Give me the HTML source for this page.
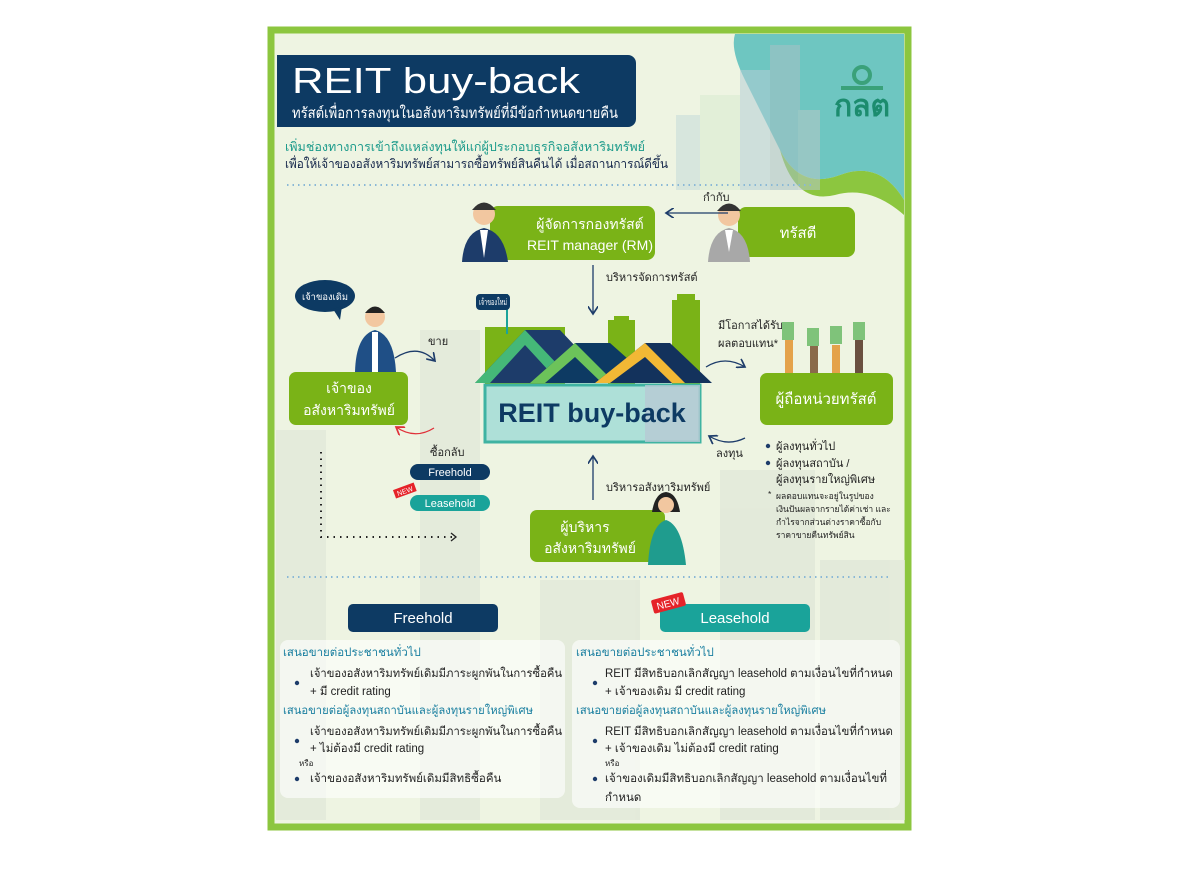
<!DOCTYPE html>
<html><head><meta charset="utf-8">
<style>
html,body{margin:0;padding:0;background:#fff;}
svg{display:block;}
text{font-family:"Liberation Sans","DejaVu Sans",sans-serif;}
</style></head>
<body>
<svg width="1200" height="881" viewBox="0 0 1200 881" xmlns="http://www.w3.org/2000/svg">
<defs>
<marker id="ah" markerWidth="8" markerHeight="8" refX="6" refY="4" orient="auto"><path d="M0,0 L6,4 L0,8" fill="none" stroke="#1d3c6a" stroke-width="1.3"/></marker>
<marker id="ahr" markerWidth="8" markerHeight="8" refX="6" refY="4" orient="auto"><path d="M0,0 L6,4 L0,8" fill="none" stroke="#e0313a" stroke-width="1.3"/></marker>
</defs>
<rect width="1200" height="881" fill="#fff"/>
<rect x="271" y="30" width="637" height="797" fill="#eef4e2" stroke="#8cc63f" stroke-width="7"/>
<g fill="#dfe7d8" opacity="0.7">
<rect x="276" y="430" width="50" height="390"/>
<rect x="420" y="330" width="60" height="490"/>
<rect x="720" y="470" width="95" height="350"/>
<rect x="540" y="580" width="100" height="240"/>
<rect x="820" y="560" width="85" height="260"/>
</g>
<path d="M735,34 L904,34 L904,200 Q880,160 840,175 Q800,190 780,150 Q760,110 745,80 Q730,50 735,34Z" fill="#6ec6c1"/>
<path d="M780,150 Q800,190 840,175 Q880,160 904,200 L904,215 Q870,185 835,195 Q795,205 780,150Z" fill="#8cc63f"/>
<g opacity="0.55">
<rect x="676" y="115" width="25" height="75" fill="#c6dcd9"/>
<rect x="700" y="95" width="40" height="95" fill="#d9ecd0"/>
<rect x="740" y="70" width="35" height="120" fill="#b4cfd6"/>
<rect x="770" y="45" width="30" height="145" fill="#a8c1c6"/>
<rect x="798" y="110" width="22" height="80" fill="#b8c8c8"/>
</g>
<circle cx="862" cy="75" r="8" fill="none" stroke="#3aa17a" stroke-width="4"/>
<rect x="841" y="86" width="42" height="4" fill="#3aa17a"/>
<text x="862" y="116" font-size="30" font-weight="bold" fill="#1c8c6e" text-anchor="middle">กลต</text>
<path d="M277,55 H628 a8,8 0 0 1 8,8 V119 a8,8 0 0 1 -8,8 H277Z" fill="#0d3a63"/>
<text x="292" y="93" font-size="36" fill="#fff" textLength="288" lengthAdjust="spacingAndGlyphs">REIT buy-back</text>
<text x="292" y="118" font-size="15" fill="#fff" textLength="326" lengthAdjust="spacingAndGlyphs">ทรัสต์เพื่อการลงทุนในอสังหาริมทรัพย์ที่มีข้อกำหนดขายคืน</text>
<text x="285" y="151" font-size="12.5" fill="#1a9a8a" textLength="360" lengthAdjust="spacingAndGlyphs">เพิ่มช่องทางการเข้าถึงแหล่งทุนให้แก่ผู้ประกอบธุรกิจอสังหาริมทรัพย์</text>
<text x="285" y="168" font-size="12.5" fill="#14264a" textLength="383" lengthAdjust="spacingAndGlyphs">เพื่อให้เจ้าของอสังหาริมทรัพย์สามารถซื้อทรัพย์สินคืนได้ เมื่อสถานการณ์ดีขึ้น</text>
<line x1="287" y1="185" x2="815" y2="185" stroke="#8ab8d6" stroke-width="2" stroke-dasharray="1.5,4"/>
<rect x="490" y="206" width="165" height="54" rx="8" fill="#7ab317"/>
<text x="590" y="229" font-size="14" fill="#fff" text-anchor="middle">ผู้จัดการกองทรัสต์</text>
<text x="590" y="250" font-size="14" fill="#fff" text-anchor="middle" textLength="126" lengthAdjust="spacingAndGlyphs">REIT manager (RM)</text>
<g><circle cx="484" cy="214" r="11" fill="#f2c7a0"/><path d="M472,210 Q484,195 496,210Z" fill="#333"/><path d="M462,262 Q464,232 484,228 Q504,232 508,262Z" fill="#1d3c6a"/><path d="M480,230 L488,230 L484,258Z" fill="#fff"/></g>
<rect x="738" y="207" width="117" height="50" rx="8" fill="#7ab317"/>
<text x="798" y="238" font-size="15" fill="#fff" text-anchor="middle">ทรัสตี</text>
<g><circle cx="729" cy="215" r="11" fill="#f2c7a0"/><path d="M717,211 Q729,196 741,211Z" fill="#333"/><path d="M708,262 Q710,232 729,228 Q748,232 750,262Z" fill="#a8a8a8"/><path d="M725,230 L733,230 L729,252Z" fill="#fff"/></g>
<text x="703" y="201" font-size="11" fill="#222">กำกับ</text>
<line x1="728" y1="213" x2="666" y2="213" stroke="#1d3c6a" stroke-width="1.3" marker-end="url(#ah)"/>
<line x1="593" y1="265" x2="593" y2="314" stroke="#1d3c6a" stroke-width="1.3" marker-end="url(#ah)"/>
<text x="606" y="281" font-size="11" fill="#222">บริหารจัดการทรัสต์</text>
<ellipse cx="325" cy="296" rx="30" ry="16" fill="#0d3a63"/>
<path d="M333,309 L340,320 L342,306Z" fill="#0d3a63"/>
<text x="325" y="300" font-size="9.5" fill="#fff" text-anchor="middle" textLength="46" lengthAdjust="spacingAndGlyphs">เจ้าของเดิม</text>
<g><circle cx="375" cy="317" r="10" fill="#f2c7a0"/><path d="M365,313 Q375,300 385,313Z" fill="#222"/><path d="M355,372 Q356,335 375,330 Q394,335 396,372Z" fill="#1f4f86"/><rect x="372" y="332" width="6" height="40" fill="#fff"/></g>
<rect x="289" y="372" width="119" height="53" rx="7" fill="#7ab317"/>
<text x="349" y="393" font-size="14" fill="#fff" text-anchor="middle">เจ้าของ</text>
<text x="349" y="415" font-size="14" fill="#fff" text-anchor="middle">อสังหาริมทรัพย์</text>
<text x="428" y="345" font-size="11" fill="#222">ขาย</text>
<path d="M395,358 Q418,343 435,361" fill="none" stroke="#1d3c6a" stroke-width="1.3" marker-end="url(#ah)"/>
<path d="M434,428 Q415,440 396,427" fill="none" stroke="#e0313a" stroke-width="1.3" marker-end="url(#ahr)"/>
<text x="430" y="456" font-size="11" fill="#222">ซื้อกลับ</text>
<rect x="410" y="464" width="80" height="16" rx="8" fill="#0d3a63"/>
<text x="450" y="476" font-size="11" fill="#fff" text-anchor="middle">Freehold</text>
<rect x="410" y="495" width="80" height="16" rx="8" fill="#1aa39a"/>
<text x="450" y="507" font-size="11" fill="#fff" text-anchor="middle">Leasehold</text>
<g transform="rotate(-20 405 491)"><rect x="394" y="486" width="22" height="9" fill="#e52329"/><text x="405" y="493.5" font-size="7" fill="#fff" text-anchor="middle">NEW</text></g>
<path d="M321,452 V537 H455" fill="none" stroke="#222" stroke-width="2" stroke-dasharray="1.5,5"/>
<path d="M451,533 L456,537 L451,541" fill="none" stroke="#222" stroke-width="1.3"/>
<rect x="485" y="327" width="80" height="60" fill="#7ab317"/>
<path d="M608,385 V320 h6 v-4 h15 v4 h6 v65Z" fill="#7ab317"/>
<path d="M672,385 V300 h5 v-6 h18 v6 h5 v85Z" fill="#7ab317"/>
<rect x="506" y="294" width="2" height="40" fill="#1aa39a"/>
<rect x="476" y="294" width="34" height="16" rx="4" fill="#0d3a63"/>
<text x="493" y="305" font-size="9" fill="#fff" text-anchor="middle" textLength="28" lengthAdjust="spacingAndGlyphs">เจ้าของใหม่</text>
<path d="M475,383 L525,330 L560,330 L610,383Z" fill="#1d3c6a"/>
<path d="M475,383 L525,330 L575,383 L560,383 L525,345 L490,383Z" fill="#45b878"/>
<path d="M530,383 L575,343 L610,343 L655,383Z" fill="#0d3a63"/>
<path d="M530,383 L575,343 L615,383 L602,383 L575,357 L545,383Z" fill="#6cc35a"/>
<path d="M595,383 L645,343 L670,343 L712,383Z" fill="#13325c"/>
<path d="M595,383 L645,343 L685,383 L672,383 L645,357 L610,383Z" fill="#f2b835"/>
<rect x="485" y="385" width="215" height="57" fill="#aee0d8" stroke="#3fb3a2" stroke-width="3"/>
<rect x="645" y="385" width="55" height="57" fill="#b7c9d4" opacity="0.8"/>
<text x="592" y="422" font-size="27" font-weight="bold" fill="#0d3a63" text-anchor="middle">REIT buy-back</text>
<text x="718" y="329" font-size="11" fill="#222">มีโอกาสได้รับ</text>
<text x="718" y="347" font-size="11" fill="#222">ผลตอบแทน*</text>
<path d="M706,367 Q725,355 745,367" fill="none" stroke="#1d3c6a" stroke-width="1.3" marker-end="url(#ah)"/>
<g fill="#e4a24a"><rect x="785" y="340" width="8" height="33"/><rect x="810" y="345" width="8" height="28" fill="#8a6a4a"/><rect x="832" y="345" width="8" height="28"/><rect x="855" y="340" width="8" height="33" fill="#6a5040"/></g>
<g fill="#7fc37a"><rect x="782" y="322" width="12" height="18"/><rect x="807" y="328" width="12" height="18"/><rect x="830" y="326" width="12" height="18"/><rect x="853" y="322" width="12" height="18"/></g>
<rect x="760" y="373" width="133" height="52" rx="7" fill="#7ab317"/>
<text x="826" y="404" font-size="15" fill="#fff" text-anchor="middle">ผู้ถือหน่วยทรัสต์</text>
<path d="M745,438 Q727,447 709,436" fill="none" stroke="#1d3c6a" stroke-width="1.3" marker-end="url(#ah)"/>
<text x="716" y="457" font-size="11" fill="#222">ลงทุน</text>
<g font-size="11" fill="#222">
<circle cx="768" cy="446" r="2.2" fill="#1d3c6a"/><text x="776" y="450">ผู้ลงทุนทั่วไป</text>
<circle cx="768" cy="463" r="2.2" fill="#1d3c6a"/><text x="776" y="467">ผู้ลงทุนสถาบัน /</text>
<text x="776" y="483">ผู้ลงทุนรายใหญ่พิเศษ</text>
</g>
<g font-size="8.5" fill="#222">
<text x="768" y="497">*</text>
<text x="776" y="499">ผลตอบแทนจะอยู่ในรูปของ</text>
<text x="776" y="512">เงินปันผลจากรายได้ค่าเช่า และ</text>
<text x="776" y="525">กำไรจากส่วนต่างราคาซื้อกับ</text>
<text x="776" y="538">ราคาขายคืนทรัพย์สิน</text>
</g>
<line x1="593" y1="500" x2="593" y2="456" stroke="#1d3c6a" stroke-width="1.3" marker-end="url(#ah)"/>
<text x="606" y="491" font-size="11" fill="#222">บริหารอสังหาริมทรัพย์</text>
<rect x="530" y="510" width="135" height="52" rx="7" fill="#7ab317"/>
<text x="585" y="532" font-size="14" fill="#fff" text-anchor="middle">ผู้บริหาร</text>
<text x="590" y="553" font-size="14" fill="#fff" text-anchor="middle">อสังหาริมทรัพย์</text>
<g><path d="M652,512 Q655,493 666,492 Q677,493 680,512Z" fill="#222"/><circle cx="666" cy="505" r="8" fill="#f2c7a0"/><path d="M648,565 Q650,525 666,520 Q682,525 686,565Z" fill="#1f9c8e"/></g>
<line x1="287" y1="577" x2="890" y2="577" stroke="#8ab8d6" stroke-width="2" stroke-dasharray="1.5,4"/>
<rect x="348" y="604" width="150" height="28" rx="5" fill="#0d3a63"/>
<text x="423" y="623" font-size="15" fill="#fff" text-anchor="middle">Freehold</text>
<rect x="660" y="604" width="150" height="28" rx="5" fill="#1aa39a"/>
<text x="735" y="623" font-size="15" fill="#fff" text-anchor="middle">Leasehold</text>
<g transform="rotate(-15 668 603)"><rect x="652" y="596" width="33" height="14" rx="2" fill="#e52329"/><text x="668" y="607" font-size="10" fill="#fff" text-anchor="middle">NEW</text></g>
<rect x="280" y="640" width="285" height="158" rx="8" fill="#fff" opacity="0.6"/>
<rect x="572" y="640" width="328" height="168" rx="8" fill="#fff" opacity="0.6"/>
<g font-size="11.5" fill="#222">
<text x="283" y="656" fill="#1a7fa0">เสนอขายต่อประชาชนทั่วไป</text>
<circle cx="297" cy="683" r="2.2" fill="#1d3c6a"/>
<text x="310" y="677" textLength="252" lengthAdjust="spacingAndGlyphs">เจ้าของอสังหาริมทรัพย์เดิมมีภาระผูกพันในการซื้อคืน</text>
<text x="310" y="695">+ มี credit rating</text>
<text x="283" y="714" fill="#1a7fa0" textLength="250" lengthAdjust="spacingAndGlyphs">เสนอขายต่อผู้ลงทุนสถาบันและผู้ลงทุนรายใหญ่พิเศษ</text>
<circle cx="297" cy="741" r="2.2" fill="#1d3c6a"/>
<text x="310" y="735" textLength="252" lengthAdjust="spacingAndGlyphs">เจ้าของอสังหาริมทรัพย์เดิมมีภาระผูกพันในการซื้อคืน</text>
<text x="310" y="752">+ ไม่ต้องมี credit rating</text>
<text x="299" y="766" font-size="8">หรือ</text>
<circle cx="297" cy="779" r="2.2" fill="#1d3c6a"/>
<text x="310" y="782">เจ้าของอสังหาริมทรัพย์เดิมมีสิทธิซื้อคืน</text>
<text x="576" y="656" fill="#1a7fa0">เสนอขายต่อประชาชนทั่วไป</text>
<circle cx="595" cy="683" r="2.2" fill="#1d3c6a"/>
<text x="605" y="677" textLength="288" lengthAdjust="spacingAndGlyphs">REIT มีสิทธิบอกเลิกสัญญา leasehold ตามเงื่อนไขที่กำหนด</text>
<text x="605" y="695">+ เจ้าของเดิม  มี credit rating</text>
<text x="576" y="714" fill="#1a7fa0" textLength="250" lengthAdjust="spacingAndGlyphs">เสนอขายต่อผู้ลงทุนสถาบันและผู้ลงทุนรายใหญ่พิเศษ</text>
<circle cx="595" cy="741" r="2.2" fill="#1d3c6a"/>
<text x="605" y="735" textLength="288" lengthAdjust="spacingAndGlyphs">REIT มีสิทธิบอกเลิกสัญญา leasehold ตามเงื่อนไขที่กำหนด</text>
<text x="605" y="752">+ เจ้าของเดิม ไม่ต้องมี credit rating</text>
<text x="605" y="766" font-size="8">หรือ</text>
<circle cx="595" cy="779" r="2.2" fill="#1d3c6a"/>
<text x="605" y="782" textLength="282" lengthAdjust="spacingAndGlyphs">เจ้าของเดิมมีสิทธิบอกเลิกสัญญา leasehold ตามเงื่อนไขที่</text>
<text x="605" y="801">กำหนด</text>
</g>
</svg>
</body></html>
